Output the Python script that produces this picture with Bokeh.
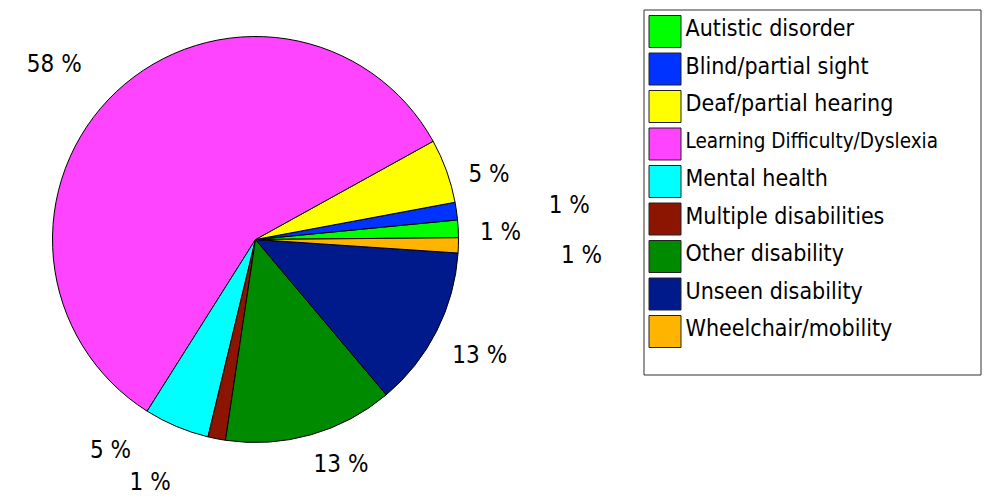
import math
import numpy as np
from bokeh.plotting import figure
from bokeh.models import ColumnDataSource, Range1d
from bokeh.core.properties import value
from bokeh.embed import file_html
from bokeh.resources import INLINE

# ---- data ----
categories = ["Autistic disorder", "Blind/partial sight", "Deaf/partial hearing",
              "Learning Difficulty/Dyslexia", "Mental health", "Multiple disabilities",
              "Other disability", "Unseen disability", "Wheelchair/mobility"]
shares = [1.4, 1.4, 5.1, 58.0, 5.2, 1.4, 13.5, 12.8, 1.2]
pct_labels = ["1 %", "1 %", "5 %", "58 %", "5 %", "1 %", "13 %", "13 %", "1 %"]
colors = ["#00ff00", "#0033ff", "#ffff00", "#ff44ff", "#00ffff",
          "#8b1500", "#008a00", "#001a8c", "#ffb400"]

# ---- layout (not data) ----
W, H = 988, 500
cx, cy, R = 255, 261, 203
start_deg = 0.5
label_shift_deg = [-3.25, -3.27, -5.97, 6.91, -10.57, -11.77, 4.37, -2.03, -2.5]
label_dist = [245.0, 314.8, 240.4, 261.7, 262.9, 272.0, 247.9, 256.1, 326.9]
label_lift = 8.5
FONT = "DejaVu Sans Condensed"

p = figure(width=W, height=H, output_backend="svg", toolbar_location=None,
           x_range=Range1d(0, W), y_range=Range1d(0, H),
           min_border=0, outline_line_color=None)
p.axis.visible = False
p.grid.visible = False
p.background_fill_color = "white"

frac = np.array(shares) / sum(shares)
ends = np.radians(start_deg) + np.cumsum(frac) * 2 * math.pi
starts = ends - frac * 2 * math.pi
mids = (starts + ends) / 2

src = ColumnDataSource(dict(start=starts, end=ends, color=colors, name=categories))
p.wedge(x=cx, y=cy, radius=R, start_angle="start", end_angle="end",
        fill_color="color", line_color="black", line_width=1, source=src)

la = mids + np.radians(label_shift_deg)
lx = cx + np.array(label_dist) * np.cos(la)
ly = cy + np.array(label_dist) * np.sin(la) + label_lift
p.text(x=lx, y=ly, text=pct_labels, text_align="center", text_baseline="middle",
       text_font=value(FONT), text_font_size="24px", text_color="black")

# ---- legend (drawn) ----
box_l, box_r, box_t, box_b = 643.5, 980.5, 490.5, 125.5
p.quad(left=[box_l], right=[box_r], top=[box_t], bottom=[box_b],
       fill_color="white", line_color="#333333", line_width=1)
n = len(categories)
row_y = 469 - 37.5 * np.arange(n)
p.rect(x=[664.5] * n, y=row_y, width=32, height=32, fill_color=colors,
       line_color="#222222", line_width=1)
sizes = ["23px"] * n
sizes[3] = "20.5px"
lsrc = ColumnDataSource(dict(x=[685] * n, y=row_y + 3.5, t=categories, s=sizes))
p.text(x="x", y="y", text="t", text_font=value(FONT), text_font_size="s",
       text_align="left", text_baseline="middle", text_color="black", source=lsrc)

open("out.html", "w").write(file_html(p, INLINE))
